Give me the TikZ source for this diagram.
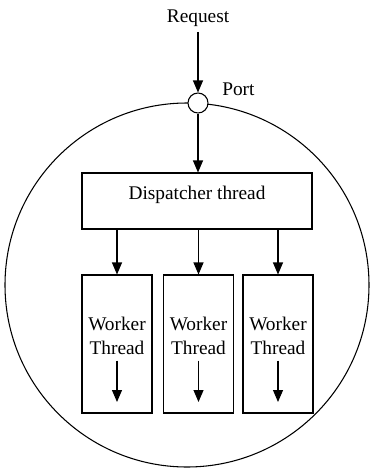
\documentclass[tikz,border=0pt]{standalone}
\usepackage{fontspec}
\setmainfont{Liberation Serif}
\usetikzlibrary{arrows.meta,positioning}

\tikzset{
  box/.style={draw, line width=0.8pt, inner sep=0pt},
  worker/.style={box, minimum width=52.5pt, minimum height=103.5pt},
  flow/.style={-{Triangle[width=7.5pt,length=9pt]}, line width=0.8pt},
  lbl/.style={font=\fontsize{14.5}{18.5}\selectfont, inner sep=0pt, align=center}
}

\begin{document}
\begin{tikzpicture}[x=0.75pt, y=-0.75pt]

                \useasboundingbox (0,0) rectangle (372,468);

                %----- SERVER (big circle) -----
                \draw[line width=0.8pt] (187,285) circle[radius=182];

                %----- REQUEST AND PORT -----
                \node[lbl] (request) at (198,18) {Request};
                \node[box, circle, fill=white, minimum size=15pt] (port) at (198,103) {};
                \node[lbl, anchor=west] (portlbl) at (222,89) {Port};
                \draw[flow, shorten <=4pt] (request) -- (port);

                %----- DISPATCHER -----
                \node[box, minimum width=172.5pt, minimum height=42pt] (disp) at (197,201) {};
                \node[lbl] (disptext) at (197,195) {Dispatcher thread};
                \draw[flow] (port.south) -- (disp.north -| port);

                %----- WORKERS -----
                \foreach \i/\x in {1/117, 2/198.5, 3/278} {
                    \node[worker] (w\i) at (\x,344) {};
                    \node[lbl] (wt\i) at (\x,336) {Worker\\Thread};
                    \coordinate (wend\i) at (\x,402);
                    \draw[flow] (disp.south -| w\i) -- (w\i.north);
                    \draw[flow, shorten <=4pt] (wt\i.south) -- (wend\i);
                }

\end{tikzpicture}
\end{document}
